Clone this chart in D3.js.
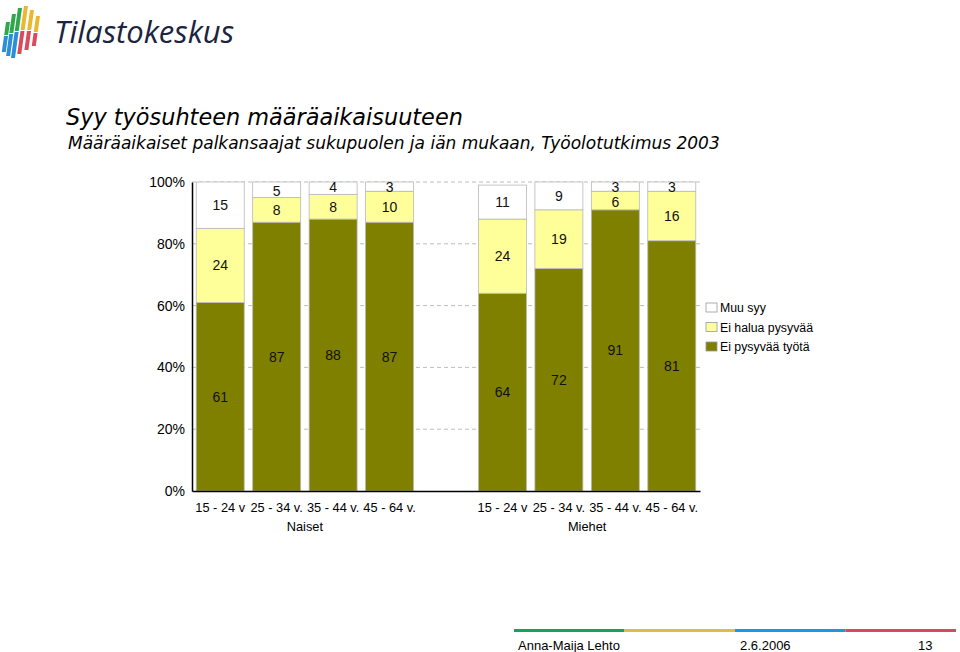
<!DOCTYPE html>
<html><head><meta charset="utf-8">
<script src="https://cdn.jsdelivr.net/npm/d3@7"></script>
<style>
body{margin:0;background:#fff;}
text{font-family:"Liberation Sans",Arial,sans-serif;}
</style></head>
<body>
<svg id="c" width="960" height="652"></svg>
<script>
const categories = ["15 - 24 v","25 - 34 v.","35 - 44 v.","45 - 64 v.","","15 - 24 v","25 - 34 v.","35 - 44 v.","45 - 64 v."];
const groups = ["Naiset","Miehet"];
const seriesNames = ["Ei pysyvää työtä","Ei halua pysyvää","Muu syy"];
const eiPysyvaa = [61,87,88,87,null,64,72,91,81];
const eiHalua   = [24,8,8,10,null,24,19,6,16];
const muuSyy    = [15,5,4,3,null,11,9,3,3];
const yTicks = [0,20,40,60,80,100];
const colors = ["#808000","#FFFF99","#FFFFFF"];

const svg = d3.select("#c");

// logo
const logo = svg.append("g");
const strips = [
 {x:6,top:22,mid:35,bot:52,c1:"#2ea84a",c2:"#2c8fd6"},
 {x:12,top:14,mid:33,bot:56,c1:"#2ea84a",c2:"#2c8fd6"},
 {x:18,top:8,mid:31,bot:58,c1:"#2ea84a",c2:"#2c8fd6"},
 {x:24,top:6,mid:30,bot:54,c1:"#e9b730",c2:"#d94a5c"},
 {x:30,top:10,mid:30,bot:50,c1:"#e9b730",c2:"#d94a5c"},
 {x:36,top:16,mid:32,bot:46,c1:"#e9b730",c2:"#d94a5c"}
];
strips.forEach(s=>{
  logo.append("rect").attr("x",s.x).attr("y",s.top).attr("width",4).attr("height",s.mid-s.top).attr("fill",s.c1).attr("transform",`skewX(-8) translate(${s.top*0.14},0)`);
  logo.append("rect").attr("x",s.x).attr("y",s.mid+1).attr("width",4).attr("height",s.bot-s.mid-1).attr("fill",s.c2).attr("transform",`skewX(-8) translate(${s.top*0.14},0)`);
});
svg.append("text").attr("x",54).attr("y",43).attr("font-size",31).attr("fill","#1b2440")
  .attr("font-style","italic").style("font-family","'Open Sans','DejaVu Sans',sans-serif").text("Tilastokeskus");

// titles
svg.append("text").attr("x",66).attr("y",125).attr("font-size",22.4).attr("font-style","italic").attr("fill","#000")
  .style("font-family","'DejaVu Sans',Verdana,sans-serif").text("Syy työsuhteen määräaikaisuuteen");
svg.append("text").attr("x",68).attr("y",149).attr("font-size",17).attr("font-style","italic").attr("fill","#000")
  .style("font-family","'DejaVu Sans',Verdana,sans-serif").text("Määräaikaiset palkansaajat sukupuolen ja iän mukaan, Työolotutkimus 2003");

// chart
const x0 = 192, x1 = 700, yTop = 182, yBot = 491;
const x = d3.scaleBand().domain(d3.range(categories.length)).range([x0,x1]).paddingInner(0.15).paddingOuter(0.075);
const y = d3.scaleLinear().domain([0,100]).range([yBot,yTop]);

const g = svg.append("g");
g.selectAll("line.grid").data(yTicks.filter(d=>d>0)).join("line")
  .attr("x1",x0).attr("x2",x1).attr("y1",d=>y(d)).attr("y2",d=>y(d))
  .attr("stroke","#bdbdbd").attr("stroke-dasharray","4,3").attr("stroke-width",1);

const rows = categories.map((c,i)=>({i, vals:[eiPysyvaa[i],eiHalua[i],muuSyy[i]]})).filter(r=>r.vals[0]!=null);
const stackData = rows.map(r=>({i:r.i, a:r.vals[0], b:r.vals[1], c:r.vals[2]}));
const stack = d3.stack().keys(["a","b","c"])(stackData);

stack.forEach((layer,li)=>{
  g.selectAll(null).data(layer).join("rect")
    .attr("x",d=>x(d.data.i)).attr("width",x.bandwidth())
    .attr("y",d=>y(d[1])).attr("height",d=>y(d[0])-y(d[1]))
    .attr("fill",colors[li]).attr("stroke","#b8b8b8").attr("stroke-width",0.8);
});
stack.forEach((layer,li)=>{
  g.selectAll(null).data(layer).join("text")
    .attr("x",d=>x(d.data.i)+x.bandwidth()/2)
    .attr("y",d=>{
      const v=d[1]-d[0];
      if (v<5) return y(d[1])+10;
      if (v<8) return (y(d[0])+y(d[1]))/2+6.5;
      return (y(d[0])+y(d[1]))/2+5;
    })
    .attr("text-anchor","middle").attr("font-size",14).attr("fill","#111")
    .text(d=>d[1]-d[0]);
});

// axes
const yAxis = d3.axisLeft(y).tickValues(yTicks).tickFormat(d=>d+"%").tickSize(0).tickPadding(7);
const ya = svg.append("g").attr("transform",`translate(${x0},0)`).call(yAxis);
ya.select(".domain").attr("stroke","#000").attr("stroke-width",1.5);
ya.selectAll("text").attr("font-size",14).attr("fill","#000").style("font-family","'Liberation Sans',Arial,sans-serif");

const xAxis = d3.axisBottom(x).tickFormat(i=>categories[i]).tickSize(0).tickPadding(12);
const xa = svg.append("g").attr("transform",`translate(0,${yBot})`).call(xAxis);
xa.select(".domain").attr("stroke","#000").attr("stroke-width",1.5);
xa.selectAll("text").attr("font-size",12.8).attr("fill","#000").style("font-family","'Liberation Sans',Arial,sans-serif");

groups.forEach((gname,gi)=>{
  const a = x(gi*5), b = x(gi*5+3)+x.bandwidth();
  svg.append("text").attr("x",(a+b)/2).attr("y",531).attr("text-anchor","middle").attr("font-size",12.8).text(gname);
});

// legend
const legendOrder = [2,1,0];
legendOrder.forEach((si,k)=>{
  const ly = 303 + k*19.5;
  svg.append("rect").attr("x",706).attr("y",ly).attr("width",11).attr("height",9)
    .attr("fill",colors[si]).attr("stroke","#999").attr("stroke-width",0.8);
  svg.append("text").attr("x",720).attr("y",ly+9).attr("font-size",12.3).text(seriesNames[si]);
});

// footer
const footColors = ["#1aa05a","#e8b64a","#1e96e8","#d24b5e"];
footColors.forEach((c,i)=>{
  svg.append("rect").attr("x",514+i*110.5).attr("y",629).attr("width",110.5).attr("height",3).attr("fill",c);
});
svg.append("text").attr("x",518).attr("y",650).attr("font-size",13).text("Anna-Maija Lehto");
svg.append("text").attr("x",740).attr("y",650).attr("font-size",13).text("2.6.2006");
svg.append("text").attr("x",918).attr("y",650).attr("font-size",13).text("13");
</script>
</body></html>
